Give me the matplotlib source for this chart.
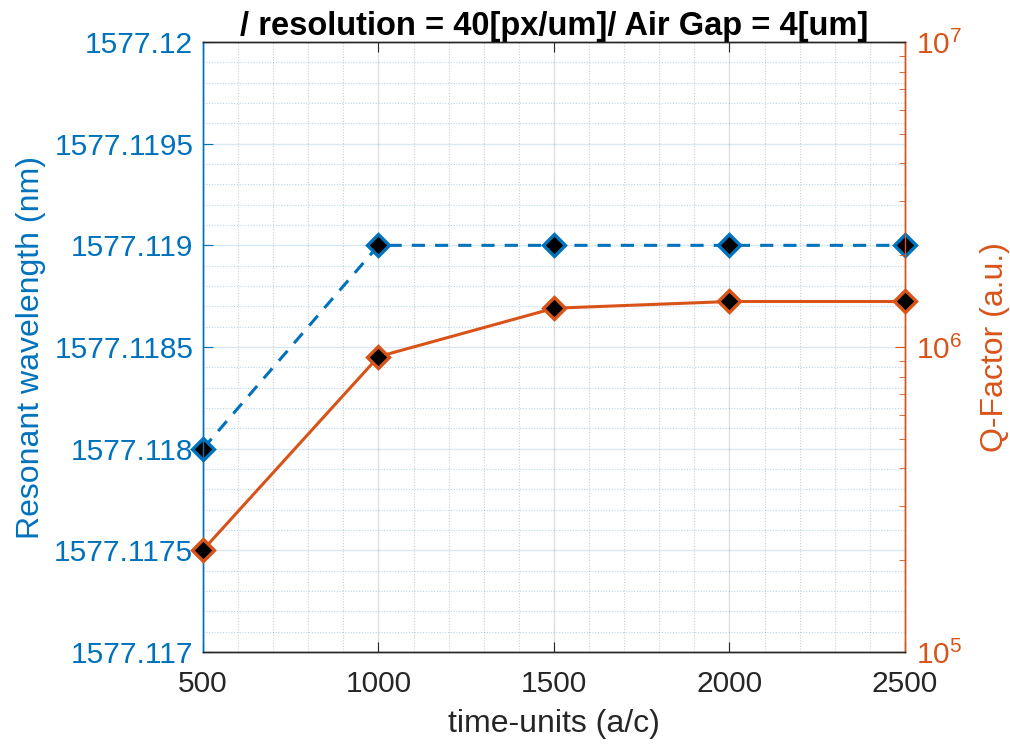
import matplotlib
matplotlib.use("Agg")
import matplotlib.pyplot as plt
from matplotlib.ticker import FixedLocator, FuncFormatter, LogLocator, NullFormatter

plt.rcParams['font.family'] = ['Liberation Sans', 'DejaVu Sans']

time_units = [500, 1000, 1500, 2000, 2500]
wavelength_nm = [1577.118, 1577.119, 1577.119, 1577.119, 1577.119]
q_factor = [2.16e5, 9.3e5, 1.34e6, 1.41e6, 1.41e6]

title_text = "/ resolution = 40[px/um]/ Air Gap = 4[um]"
xlabel_text = "time-units (a/c)"
ylabel_left = "Resonant wavelength (nm)"
ylabel_right = "Q-Factor (a.u.)"

blue = "#0072BD"
orange = "#D95319"
dark = "#262626"
tick_fs = 21.5
label_fs = 23

fig = plt.figure(figsize=(10.1, 7.44), dpi=100)
ax = fig.add_axes([0.201, 0.1237, 0.695, 0.8198])
ax2 = ax.twinx()

ax.set_xlim(500, 2500)
ax.set_ylim(1577.117, 1577.12)
ax.yaxis.set_major_locator(FixedLocator([1577.117 + 0.0005 * i for i in range(7)]))
ax.yaxis.set_minor_locator(FixedLocator([1577.117 + 0.0001 * i for i in range(31)]))
ax.yaxis.set_major_formatter(FuncFormatter(lambda v, p: ("%.4f" % v).rstrip('0').rstrip('.')))
ax.xaxis.set_major_locator(FixedLocator([500, 1000, 1500, 2000, 2500]))
ax.xaxis.set_minor_locator(FixedLocator(list(range(500, 2501, 100))))

# grid: vertical lines grey, horizontal lines tinted with the left-axis colour
ax.xaxis.grid(True, which='major', color=dark, alpha=0.15, lw=1.0)
ax.xaxis.grid(True, which='minor', color=dark, alpha=0.22, lw=0.8, ls=(0, (1, 1.5)))
ax.yaxis.grid(True, which='major', color=blue, alpha=0.15, lw=1.0)
ax.yaxis.grid(True, which='minor', color=blue, alpha=0.28, lw=0.8, ls=(0, (1, 1.5)))
ax.set_axisbelow(True)

ax.plot(time_units, wavelength_nm, ls=(0, (4.3, 3.3)), color=blue, lw=2.2,
        marker='D', ms=11, mfc='black', mec=blue, mew=2.4, clip_on=False, zorder=3)

ax2.set_yscale('log')
ax2.set_ylim(1e5, 1e7)
ax2.yaxis.set_major_locator(LogLocator(base=10, numticks=10))
ax2.yaxis.set_minor_locator(LogLocator(base=10, subs=range(2, 10), numticks=10))
ax2.yaxis.set_minor_formatter(NullFormatter())
ax2.plot(time_units, q_factor, ls='-', color=orange, lw=2.2,
         marker='D', ms=11, mfc='black', mec=orange, mew=2.4, clip_on=False, zorder=3)

for a in (ax, ax2):
    a.tick_params(direction='in', which='both', labelsize=tick_fs)
    a.tick_params(which='major', length=7)
    a.tick_params(which='minor', length=4)
    for s in a.spines.values():
        s.set_linewidth(1.0)
    a.spines['top'].set_color(dark)
    a.spines['bottom'].set_color(dark)
    a.spines['left'].set_color(blue)
    a.spines['right'].set_color(orange)

ax.tick_params(axis='x', which='both', top=True, colors=dark, labelcolor=dark, pad=13)
ax.tick_params(axis='x', which='minor', length=0)
ax.tick_params(axis='y', which='both', colors=blue, labelcolor=blue, pad=7)
ax.tick_params(axis='y', which='minor', length=0)
ax2.tick_params(axis='y', which='both', colors=orange, labelcolor=orange, pad=8)

ax.set_xlabel(xlabel_text, fontsize=label_fs, color=dark, labelpad=8)
ax.set_ylabel(ylabel_left, fontsize=label_fs, color=blue, labelpad=6)
ax2.set_ylabel(ylabel_right, fontsize=label_fs, color=orange, labelpad=13)
ax.set_title(title_text, fontsize=23.5, fontweight='bold', color='black', pad=3)

fig.savefig("out.png", dpi=100, facecolor='white')
